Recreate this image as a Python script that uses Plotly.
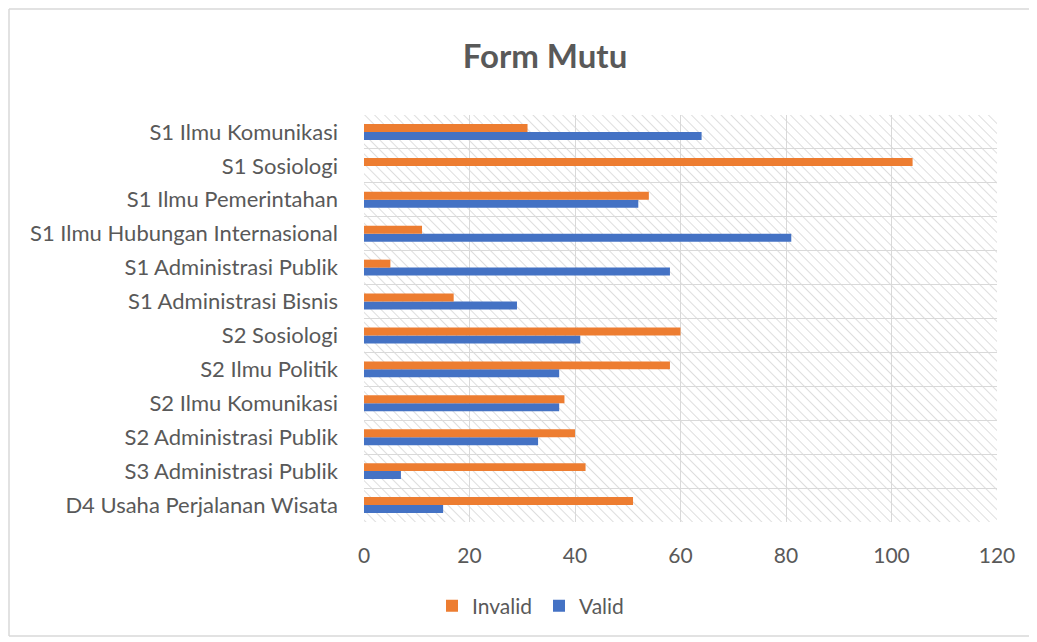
import base64
import plotly.graph_objects as go

# Data (top to bottom)
programs = [
    "S1 Ilmu Komunikasi", "S1 Sosiologi", "S1 Ilmu Pemerintahan",
    "S1 Ilmu Hubungan Internasional", "S1 Administrasi Publik",
    "S1 Administrasi Bisnis", "S2 Sosiologi", "S2 Ilmu Politik",
    "S2 Ilmu Komunikasi", "S2 Administrasi Publik",
    "S3 Administrasi Publik", "D4 Usaha Perjalanan Wisata",
]
invalid = [31, 104, 54, 11, 5, 17, 60, 58, 38, 40, 42, 51]
valid = [64, 0, 52, 81, 58, 29, 41, 37, 37, 33, 7, 15]
x_ticks = [0, 20, 40, 60, 80, 100, 120]

FONT = "Lato"
GREY = "#595959"

# page has an 8px body margin, so the figure is a bit smaller than the window
OFF = 8
W, H = 1037 - OFF, 642 - OFF
L, R, T, B = 364 - OFF, 40, 115 - OFF, 120
pw, ph = W - L - R, H - T - B


def px_x(x):
    # page pixel -> paper x
    return (x - OFF - L) / pw


def px_y(y):
    # page pixel -> paper y
    return 1 - (y - OFF - T) / ph


# diagonal hatch for the plot background (decoration only)
svg = (
    f'<svg xmlns="http://www.w3.org/2000/svg" width="{pw}" height="{ph}">'
    '<defs><pattern id="p" width="7" height="7" patternUnits="userSpaceOnUse" '
    'patternTransform="rotate(-45)"><line x1="0" y1="0" x2="0" y2="7" '
    'stroke="#dadada" stroke-width="1.8"/></pattern></defs>'
    f'<rect width="{pw}" height="{ph}" fill="url(#p)"/></svg>'
)
hatch = "data:image/svg+xml;base64," + base64.b64encode(svg.encode()).decode()

fig = go.Figure()
fig.add_trace(go.Bar(y=programs, x=valid, name="Valid", orientation="h",
                     marker=dict(color="#4472C4", line=dict(width=0)), legendrank=2))
fig.add_trace(go.Bar(y=programs, x=invalid, name="Invalid", orientation="h",
                     marker=dict(color="#ED7D31", line=dict(width=0)), legendrank=1))

fig.add_layout_image(dict(source=hatch, xref="paper", yref="paper", x=0, y=1,
                          sizex=1, sizey=1, sizing="stretch", layer="below",
                          xanchor="left", yanchor="top"))

# outer chart frame: left, top, bottom (right side runs off the page)
frame = dict(color="#d9d9d9", width=1.5)
for x0, y0, x1, y1 in [(9, 9, 9, 636), (9, 9, 1037, 9), (9, 636, 1037, 636)]:
    fig.add_shape(type="line", xref="paper", yref="paper",
                  x0=px_x(x0), y0=px_y(y0), x1=px_x(x1), y1=px_y(y1),
                  line=frame, layer="below")

fig.update_layout(
    width=W, height=H,
    margin=dict(l=L, r=R, t=T, b=B),
    paper_bgcolor="white", plot_bgcolor="rgba(0,0,0,0)",
    barmode="group", bargap=0.53, bargroupgap=0,
    font=dict(family=FONT, color=GREY, size=20),
    title=dict(text="<b>Form Mutu</b>", x=(545 - OFF) / W, xanchor="center",
               y=1 - (56 - OFF) / H, yanchor="middle",
               font=dict(family=FONT, size=33, color=GREY)),
    xaxis=dict(range=[0, 120], tickvals=x_ticks, showgrid=True,
               gridcolor="#d9d9d9", gridwidth=1, zeroline=False,
               showline=False, ticks="", ticklabelstandoff=19,
               tickfont=dict(size=21, color=GREY)),
    yaxis=dict(categoryorder="array", categoryarray=programs[::-1],
               tickson="boundaries", showgrid=True, gridcolor="#d9d9d9",
               gridwidth=1, ticks="", showline=False, ticklabelstandoff=25,
               tickfont=dict(size=22, color=GREY)),
    legend=dict(orientation="h", x=px_x(432), xanchor="left",
                y=px_y(606), yanchor="middle",
                font=dict(size=21, color=GREY), itemwidth=30,
                entrywidth=62, traceorder="normal"),
)

fig.write_html("out.html")
